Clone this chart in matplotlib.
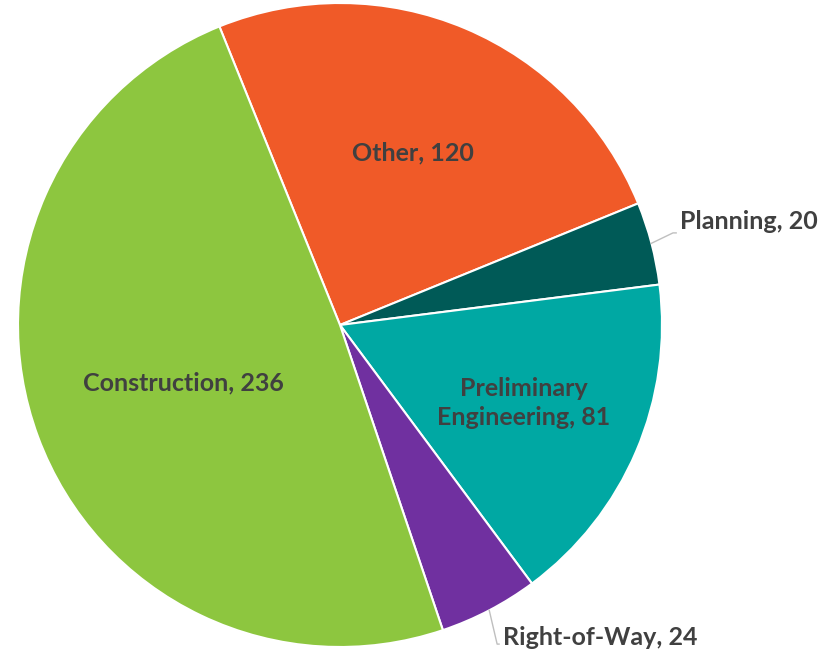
import numpy as np
import matplotlib.pyplot as plt

labels = ["Other", "Planning", "Preliminary\nEngineering", "Right-of-Way", "Construction"]
values = [120, 20, 81, 24, 236]
colors = ["#F05A28", "#005A57", "#00A8A3", "#7030A0", "#8DC63F"]
label_r = [0.58, None, 0.62, None, 0.52]
outside = {"Planning": (1.056, 0.32, 1.034, 0.286), "Right-of-Way": (0.506, -0.969, 0.488, -0.991)}

plt.rcParams['font.family'] = ['Lato', 'DejaVu Sans']

fig = plt.figure(figsize=(8.33, 6.52), dpi=100)
ax = fig.add_axes([18 / 833, 5 / 652, 644 / 833, 644 / 652])
wedges, _ = ax.pie(values, colors=colors, startangle=112, counterclock=False,
                   wedgeprops=dict(edgecolor="white", linewidth=1.5), radius=1)
ax.set_xlim(-1, 1)
ax.set_ylim(-1, 1)
ax.set_aspect('equal')
ax.axis('off')

txt = dict(fontsize=18, fontweight='bold', color='#404040')
for w, lab, v, r in zip(wedges, labels, values, label_r):
    mid = np.deg2rad((w.theta1 + w.theta2) / 2)
    s = f"{lab}, {v}"
    if lab in outside:
        tx, ty, ex, ey = outside[lab]
        x0, y0 = np.cos(mid), np.sin(mid)
        ax.plot([x0, ex, tx - 0.012], [y0, ey, ey], color='#BFBFBF', lw=1, clip_on=False)
        ax.text(tx, ty, s, ha='left', va='center', **txt)
    else:
        ax.text(r * np.cos(mid), r * np.sin(mid), s, ha='center', va='center',
                linespacing=1.3, **txt)

fig.savefig("out.png", dpi=100)
